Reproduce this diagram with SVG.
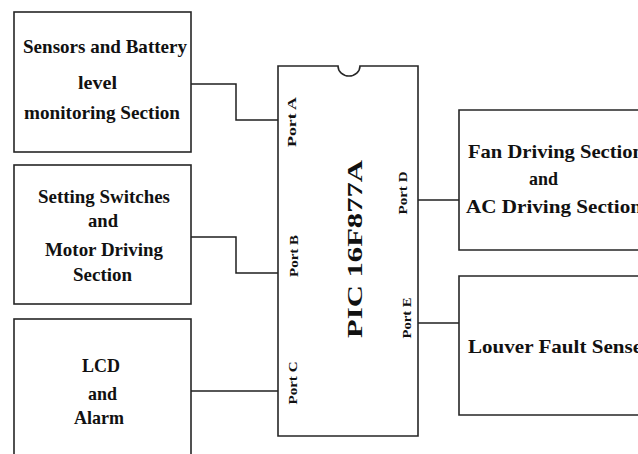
<svg xmlns="http://www.w3.org/2000/svg" width="638" height="454" viewBox="0 0 638 454">
  <style>
    .box { fill: #ffffff; stroke: #262626; stroke-width: 1.6; }
    .open { fill: none; stroke: #262626; stroke-width: 1.6; }
    .wire { fill: none; stroke: #1f1f1f; stroke-width: 1.5; }
    .lbl { font-family: "Liberation Serif", "Times New Roman", serif; font-weight: bold; font-size: 19px; fill: #111111; }
    .port { font-family: "Liberation Serif", "Times New Roman", serif; font-weight: bold; font-size: 13px; fill: #111111; }
    .chip { font-family: "Liberation Serif", "Times New Roman", serif; font-weight: bold; font-size: 22px; fill: #111111; }
  </style>
  <rect x="0" y="0" width="638" height="454" fill="#ffffff"/>

  <g id="connectors">
    <path class="wire" d="M191,84 H236 V120 H278"/>
    <path class="wire" d="M191,237 H236 V273 H278"/>
    <path class="wire" d="M191,391 H278"/>
    <path class="wire" d="M418,200 H459"/>
    <path class="wire" d="M418,323 H459"/>
  </g>

  <g id="sensors">
    <rect class="box" x="14" y="12" width="177" height="140"/>
    <text class="lbl" x="23" y="53" textLength="164" lengthAdjust="spacingAndGlyphs">Sensors and Battery</text>
    <text class="lbl" x="78" y="89" textLength="39" lengthAdjust="spacingAndGlyphs">level</text>
    <text class="lbl" x="24" y="119" textLength="156" lengthAdjust="spacingAndGlyphs">monitoring Section</text>
  </g>

  <g id="switches">
    <rect class="box" x="14" y="165" width="177" height="139"/>
    <text class="lbl" x="38" y="203" textLength="132" lengthAdjust="spacingAndGlyphs">Setting Switches</text>
    <text class="lbl" x="88" y="227" textLength="30" lengthAdjust="spacingAndGlyphs">and</text>
    <text class="lbl" x="45" y="256" textLength="118" lengthAdjust="spacingAndGlyphs">Motor Driving</text>
    <text class="lbl" x="73" y="281" textLength="59" lengthAdjust="spacingAndGlyphs">Section</text>
  </g>

  <g id="lcd">
    <rect class="box" x="14" y="319" width="177" height="150"/>
    <text class="lbl" x="82" y="372" textLength="38" lengthAdjust="spacingAndGlyphs">LCD</text>
    <text class="lbl" x="88" y="400" textLength="29" lengthAdjust="spacingAndGlyphs">and</text>
    <text class="lbl" x="74" y="424" textLength="50" lengthAdjust="spacingAndGlyphs">Alarm</text>
  </g>

  <g id="pic">
    <path class="box" d="M278,66 H338 A11,10 0 0 0 360,66 H418 V436 H278 Z"/>
    <text class="chip" transform="translate(362,249) rotate(-90)" text-anchor="middle" textLength="178" lengthAdjust="spacingAndGlyphs">PIC 16F877A</text>
    <text class="port" transform="translate(296,122) rotate(-90)" text-anchor="middle" textLength="50" lengthAdjust="spacingAndGlyphs">Port A</text>
    <text class="port" transform="translate(298,256) rotate(-90)" text-anchor="middle" textLength="42" lengthAdjust="spacingAndGlyphs">Port B</text>
    <text class="port" transform="translate(297,383) rotate(-90)" text-anchor="middle" textLength="43" lengthAdjust="spacingAndGlyphs">Port C</text>
    <text class="port" transform="translate(407,193) rotate(-90)" text-anchor="middle" textLength="43" lengthAdjust="spacingAndGlyphs">Port D</text>
    <text class="port" transform="translate(411,318) rotate(-90)" text-anchor="middle" textLength="41" lengthAdjust="spacingAndGlyphs">Port E</text>
  </g>

  <g id="fan">
    <path class="open" d="M645,110 H459 V250 H645"/>
    <text class="lbl" x="468" y="158" textLength="176" lengthAdjust="spacingAndGlyphs">Fan Driving Section</text>
    <text class="lbl" x="529" y="185" textLength="29" lengthAdjust="spacingAndGlyphs">and</text>
    <text class="lbl" x="466" y="213" textLength="176" lengthAdjust="spacingAndGlyphs">AC Driving Section</text>
  </g>

  <g id="louver">
    <path class="open" d="M645,276 H459 V415 H645"/>
    <text class="lbl" x="468" y="353" textLength="174" lengthAdjust="spacingAndGlyphs">Louver Fault Sense</text>
  </g>
</svg>
